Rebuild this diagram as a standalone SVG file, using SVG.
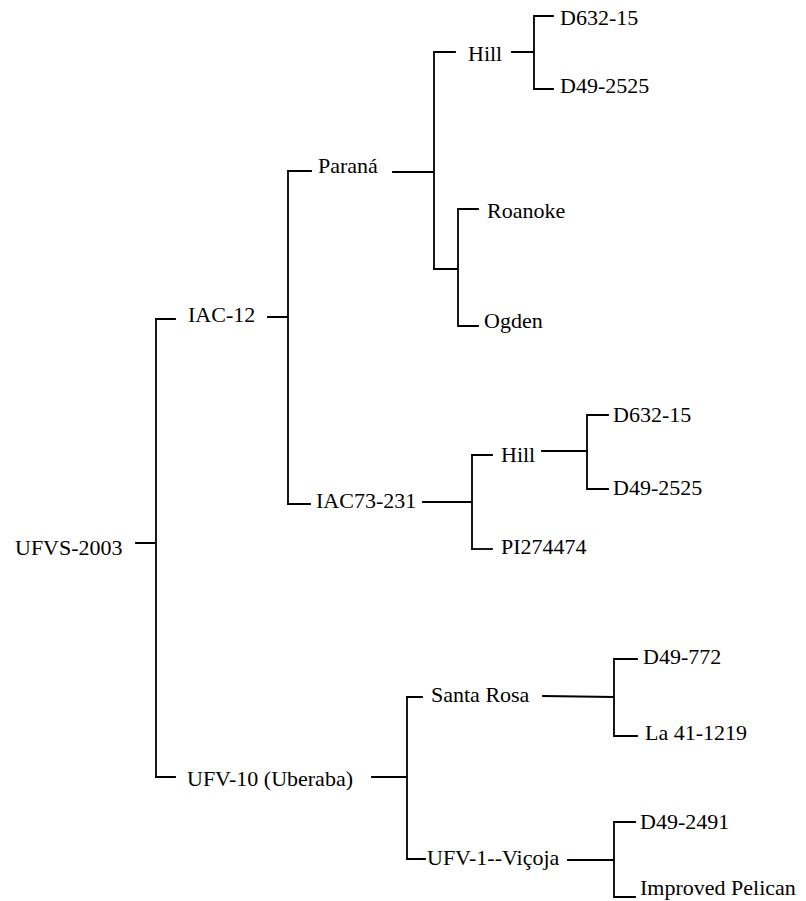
<svg xmlns="http://www.w3.org/2000/svg" width="806" height="901" viewBox="0 0 806 901">
<style>
.t text{font-family:"Liberation Serif","Times New Roman",serif;font-size:22px;fill:#000}
.c path{fill:none;stroke:#000;stroke-width:1.8;stroke-linecap:square}
</style>
<rect width="806" height="901" fill="#fff"/>
<g class="c" id="connectors">
<path d="M136,543H156M156,319V777"/>
<path d="M156,319H175M268,317H288M288,171V504"/>
<path d="M288,171H311M393,172H434M434,52V269"/>
<path d="M434,52H455M512,52H534M534,16V89M534,16H553M534,89H553"/>
<path d="M434,269H458M458,209V326M458,209H478M458,326H478"/>
<path d="M288,504H310M423,502H472M472,455V549"/>
<path d="M472,455H492M542,451H587M587,415V489M587,415H608M587,489H608"/>
<path d="M472,549H492"/>
<path d="M156,777H175M372,777H407M407,697V859"/>
<path d="M407,697H422M543,696L614,697M614,659V736M614,659H637M614,736H637"/>
<path d="M407,859H425M568,860H614M614,822V897M614,822H635M614,897H635"/>
</g>
<g class="t">
<g id="n-ufvs2003"><text x="15" y="555">UFVS-2003</text></g>
<g id="n-iac12"><text x="188" y="322">IAC-12</text></g>
<g id="n-parana"><text x="318" y="173">Paraná</text></g>
<g id="n-hill1"><text x="468" y="61">Hill</text></g>
<g id="n-d632-1"><text x="560" y="25">D632-15</text></g>
<g id="n-d49-2525-1"><text x="560" y="93">D49-2525</text></g>
<g id="n-roanoke"><text x="487" y="218">Roanoke</text></g>
<g id="n-ogden"><text x="484" y="328">Ogden</text></g>
<g id="n-iac73"><text x="316" y="508">IAC73-231</text></g>
<g id="n-hill2"><text x="501" y="462">Hill</text></g>
<g id="n-d632-2"><text x="613" y="422">D632-15</text></g>
<g id="n-d49-2525-2"><text x="613" y="495">D49-2525</text></g>
<g id="n-pi"><text x="501" y="554">PI274474</text></g>
<g id="n-ufv10"><text x="187" y="786">UFV-10 (Uberaba)</text></g>
<g id="n-santarosa"><text x="431" y="702">Santa Rosa</text></g>
<g id="n-d49-772"><text x="643" y="664">D49-772</text></g>
<g id="n-la41"><text x="645" y="740">La 41-1219</text></g>
<g id="n-ufv1"><text x="427" y="865">UFV-1--Viçoja</text></g>
<g id="n-d49-2491"><text x="640" y="829">D49-2491</text></g>
<g id="n-pelican"><text x="640" y="895">Improved Pelican</text></g>
</g>
</svg>
